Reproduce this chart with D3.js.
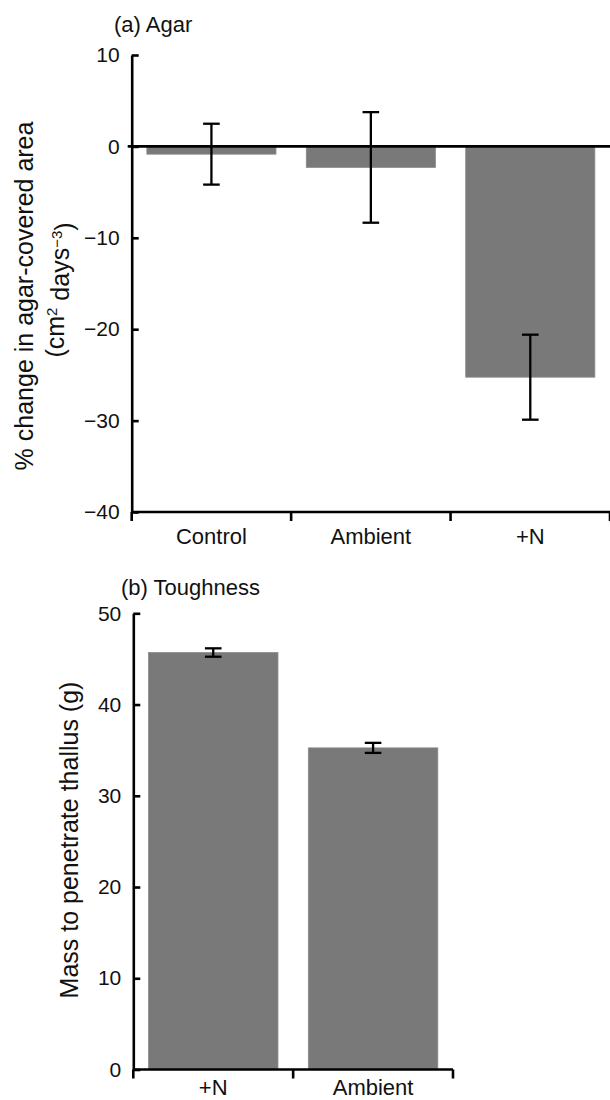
<!DOCTYPE html>
<html>
<head>
<meta charset="utf-8">
<script src="https://cdn.jsdelivr.net/npm/d3@7"></script>
<style>
  body { margin: 0; background: #fff; }
  svg { display: block; font-family: "Liberation Sans", Arial, sans-serif; }
</style>
</head>
<body>
<div id="chart-container"></div>
<script>
// panel (a) agar
const agarGroups = ['Control', 'Ambient', '+N']
const agarMeans = [-0.85, -2.3, -25.25]
const agarErrors = [3.33, 6.05, 4.65]
const agarTicks = [-40, -30, -20, -10, 0, 10]

// panel (b) toughness
const toughGroups = ['+N', 'Ambient']
const toughMeans = [45.7, 35.25]
const toughErrors = [0.46, 0.55]
const toughTicks = [0, 10, 20, 30, 40, 50]

const barColor = '#797979'
const axisWidth = 2.6

const svg = d3.select('#chart-container')
    .append('svg')
    .attr('width', 610)
    .attr('height', 1100)

function drawPanel(opts) {
    const {left, top, width, height, groups, means, errors, ticks, title, titleX, titleY, zeroLine, labelPad} = opts
    const g = svg.append('g').attr('transform', `translate(${left},${top})`)

    const x = d3.scaleBand()
        .domain(groups)
        .range([0, width])
        .paddingInner(0.19)
        .paddingOuter(0.095)
    const y = d3.scaleLinear()
        .domain(d3.extent(ticks))
        .range([height, 0])

    const data = groups.map((k, i) => ({key: k, mean: means[i], err: errors[i]}))

    // bars
    g.selectAll('.bar')
        .data(data)
        .join('rect')
        .attr('class', 'bar')
        .attr('x', d => x(d.key))
        .attr('width', x.bandwidth())
        .attr('y', d => y(Math.max(0, d.mean)))
        .attr('height', d => Math.abs(y(d.mean) - y(0)))
        .attr('fill', barColor)
        .attr('stroke', '#8a8a8a')
        .attr('stroke-width', 0.8)

    // y axis, ticks pointing inward
    g.append('g')
        .style('font-size', '21px')
        .call(d3.axisLeft(y).tickValues(ticks).tickSizeInner(-7).tickSizeOuter(0).tickPadding(12))
        .call(a => a.selectAll('path, line').attr('stroke', '#000').attr('stroke-width', axisWidth))
        .call(a => a.selectAll('text').attr('fill', '#111').attr('font-family', '"Liberation Sans", Arial, sans-serif'))

    if (zeroLine) {
        g.append('line')
            .attr('x1', -4)
            .attr('x2', width)
            .attr('y1', y(0))
            .attr('y2', y(0))
            .attr('stroke', '#000')
            .attr('stroke-width', axisWidth)
    }

    // error bars
    const cap = 8.3
    const eb = g.selectAll('.err')
        .data(data)
        .join('g')
        .attr('class', 'err')
        .attr('stroke', '#000')
        .attr('stroke-width', 2.3)
    eb.append('line')
        .attr('x1', d => x(d.key) + x.bandwidth() / 2)
        .attr('x2', d => x(d.key) + x.bandwidth() / 2)
        .attr('y1', d => y(d.mean + d.err))
        .attr('y2', d => y(d.mean - d.err))
    eb.selectAll('.cap')
        .data(d => [d.mean + d.err, d.mean - d.err].map(v => ({key: d.key, v: v})))
        .join('line')
        .attr('class', 'cap')
        .attr('x1', d => x(d.key) + x.bandwidth() / 2 - cap)
        .attr('x2', d => x(d.key) + x.bandwidth() / 2 + cap)
        .attr('y1', d => y(d.v))
        .attr('y2', d => y(d.v))

    // x axis: labels centred, ticks on band boundaries
    const xAxis = g.append('g')
        .attr('transform', `translate(0,${height})`)
        .style('font-size', '22px')
        .call(d3.axisBottom(x).tickSize(0).tickPadding(labelPad))
        .call(a => a.select('.domain').remove())
        .call(a => a.selectAll('text').attr('fill', '#111').attr('font-family', '"Liberation Sans", Arial, sans-serif'))

    const bounds = d3.range(groups.length + 1).map(i => x.range()[0] + i * x.step())
    xAxis.append('line')
        .attr('x1', 0)
        .attr('x2', width)
        .attr('stroke', '#000')
        .attr('stroke-width', axisWidth)
    xAxis.selectAll('.bound')
        .data(bounds)
        .join('line')
        .attr('class', 'bound')
        .attr('x1', d => d)
        .attr('x2', d => d)
        .attr('y1', 0)
        .attr('y2', 9)
        .attr('stroke', '#000')
        .attr('stroke-width', axisWidth)

    svg.append('text')
        .attr('x', titleX)
        .attr('y', titleY)
        .style('font-size', '22px')
        .attr('fill', '#111')
        .text(title)

    return g
}

drawPanel({
    left: 131.7, top: 55, width: 478.3, height: 457,
    groups: agarGroups, means: agarMeans, errors: agarErrors, ticks: agarTicks,
    title: '(a) Agar', titleX: 114, titleY: 32, zeroLine: true, labelPad: 16.5
})

drawPanel({
    left: 133.3, top: 613.3, width: 319.7, height: 456.2,
    groups: toughGroups, means: toughMeans, errors: toughErrors, ticks: toughTicks,
    title: '(b) Toughness', titleX: 121, titleY: 595, zeroLine: false, labelPad: 10
})

// y axis titles
svg.append('text')
    .attr('transform', 'translate(33,296) rotate(-90)')
    .attr('text-anchor', 'middle')
    .style('font-size', '25px')
    .attr('fill', '#111')
    .text('% change in agar-covered area')

const yLabA2 = svg.append('text')
    .attr('transform', 'translate(64,290) rotate(-90)')
    .attr('text-anchor', 'middle')
    .style('font-size', '25px')
    .attr('fill', '#111')
yLabA2.append('tspan').text('(cm')
yLabA2.append('tspan').attr('dy', '-0.45em').style('font-size', '15px').text('2')
yLabA2.append('tspan').attr('dy', '0.45em').text(' days')
yLabA2.append('tspan').attr('dy', '-0.45em').style('font-size', '15px').text('\u22123')
yLabA2.append('tspan').attr('dy', '0.45em').text(')')

svg.append('text')
    .attr('transform', 'translate(78,840) rotate(-90)')
    .attr('text-anchor', 'middle')
    .style('font-size', '25px')
    .attr('fill', '#111')
    .text('Mass to penetrate thallus (g)')
</script>
</body>
</html>
